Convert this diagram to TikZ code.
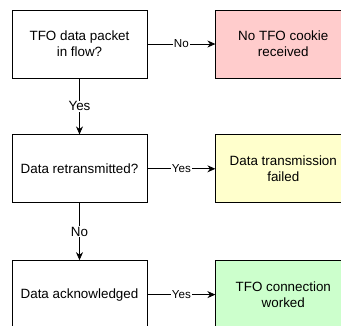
\documentclass[tikz,border=0pt]{standalone}
\usepackage{fontspec}
\setmainfont{Liberation Sans}
\usetikzlibrary{arrows.meta, positioning}
\definecolor{failpink}{HTML}{FFCCCC}
\definecolor{warnyellow}{HTML}{FFFFCC}
\definecolor{okgreen}{HTML}{CCFFCC}

\begin{document}
\begin{tikzpicture}[
        check/.style={rectangle, draw, align=center, minimum width=135pt, minimum height=68pt, line width=0.8pt, font=\fontsize{13.4}{15.8}\selectfont},
        result/.style={check},
        arrow/.style={-{Stealth[length=8pt, width=7pt]}, line width=0.8pt},
        answer/.style={fill=white, inner sep=1pt},
        small/.style={font=\fontsize{11.6}{13}\selectfont},
        node distance=56pt and 68pt
        ]
        \clip (0,0) rectangle (341pt,-325pt);

        % Nodes
        \node (packet) [check] at (79.5pt,-44pt) {TFO data packet\\in flow?};
        \node (nocookie) [result, right=of packet, fill=failpink] {No TFO cookie\\received};
        \node (retrans) [check, below=of packet] {Data retransmitted?};
        \node (failed) [result, right=of retrans, fill=warnyellow] {Data transmission\\failed};
        \node (acked) [check, below=57pt of retrans] {Data acknowledged};
        \node (worked) [result, right=of acked, fill=okgreen] {TFO connection\\worked};

        % Arrows with labels
        \draw [arrow] (packet) -- node[answer, small] {No} (nocookie);
        \draw [arrow] (packet) -- node[answer, font=\fontsize{13.4}{15}\selectfont] {Yes} (retrans);
        \draw [arrow] (retrans) -- node[answer, small] {Yes} (failed);
        \draw [arrow] (retrans) -- node[answer, font=\fontsize{13.4}{15}\selectfont] {No} (acked);
        \draw [arrow] (acked) -- node[answer, small] {Yes} (worked);

    \end{tikzpicture}
\end{document}
